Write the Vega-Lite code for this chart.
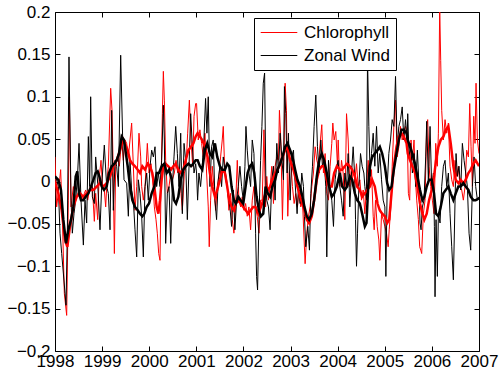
{
"$schema": "https://vega.github.io/schema/vega-lite/v6.json",
"width": 424, "height": 339,
"autosize": {"type": "none"},
"padding": {"left": 55, "top": 12, "right": 20, "bottom": 22},
"background": "white",
"config": {
  "view": {"stroke": "black", "strokeWidth": 1},
  "axis": {"domain": false, "grid": false, "ticks": true, "tickSize": -5, "tickColor": "black", "tickWidth": 1, "labelColor": "black", "labelFont": "Liberation Sans", "labelFontSize": 17, "labelOverlap": false, "labelFlush": false}
},
"datasets": {
"chl": [
{"t":1998.000,"v":0.029},{"t":1998.035,"v":-0.030},{"t":1998.085,"v":-0.006},{"t":1998.120,"v":0.014},{"t":1998.156,"v":-0.041},{"t":1998.198,"v":-0.132},{"t":1998.248,"v":-0.158},{"t":1998.283,"v":-0.022},{"t":1998.304,"v":0.100},{"t":1998.340,"v":-0.030},{"t":1998.389,"v":-0.006},{"t":1998.439,"v":-0.022},{"t":1998.481,"v":-0.014},{"t":1998.531,"v":-0.010},{"t":1998.580,"v":-0.022},{"t":1998.623,"v":-0.014},{"t":1998.651,"v":-0.010},{"t":1998.694,"v":-0.022},{"t":1998.743,"v":-0.006},{"t":1998.793,"v":-0.006},{"t":1998.835,"v":-0.047},{"t":1998.863,"v":-0.014},{"t":1998.906,"v":-0.045},{"t":1998.934,"v":0.002},{"t":1998.977,"v":0.025},{"t":1999.005,"v":-0.002},{"t":1999.047,"v":-0.010},{"t":1999.076,"v":-0.030},{"t":1999.104,"v":0.002},{"t":1999.132,"v":0.018},{"t":1999.182,"v":0.110},{"t":1999.210,"v":0.084},{"t":1999.231,"v":0.025},{"t":1999.260,"v":-0.085},{"t":1999.288,"v":0.018},{"t":1999.330,"v":0.029},{"t":1999.366,"v":0.018},{"t":1999.415,"v":0.049},{"t":1999.451,"v":0.025},{"t":1999.486,"v":0.049},
{"t":1999.521,"v":0.045},{"t":1999.557,"v":0.029},{"t":1999.592,"v":0.049},{"t":1999.627,"v":0.069},{"t":1999.663,"v":0.018},{"t":1999.698,"v":-0.034},{"t":1999.734,"v":-0.006},{"t":1999.783,"v":0.057},{"t":1999.819,"v":0.029},{"t":1999.840,"v":-0.006},{"t":1999.875,"v":-0.022},{"t":1999.911,"v":-0.006},{"t":1999.960,"v":0.045},{"t":1999.996,"v":0.010},{"t":2000.038,"v":0.021},{"t":2000.073,"v":0.002},{"t":2000.109,"v":-0.030},{"t":2000.144,"v":-0.045},{"t":2000.172,"v":-0.061},{"t":2000.201,"v":-0.085},{"t":2000.229,"v":-0.093},{"t":2000.250,"v":-0.006},{"t":2000.279,"v":0.080},{"t":2000.300,"v":0.130},{"t":2000.321,"v":0.096},{"t":2000.349,"v":0.025},{"t":2000.385,"v":-0.014},{"t":2000.420,"v":-0.006},{"t":2000.456,"v":0.010},{"t":2000.491,"v":0.002},{"t":2000.533,"v":0.010},{"t":2000.569,"v":0.025},{"t":2000.604,"v":0.010},{"t":2000.640,"v":0.014},{"t":2000.675,"v":-0.014},{"t":2000.703,"v":-0.034},{"t":2000.746,"v":0.010},{"t":2000.781,"v":0.018},{"t":2000.816,"v":0.057},{"t":2000.852,"v":0.096},{"t":2000.887,"v":0.049},{"t":2000.923,"v":0.018},{"t":2000.951,"v":0.077},{"t":2000.986,"v":0.092},
{"t":2001.005,"v":0.092},{"t":2001.041,"v":0.049},{"t":2001.076,"v":0.061},{"t":2001.112,"v":0.045},{"t":2001.147,"v":0.029},{"t":2001.182,"v":0.057},{"t":2001.218,"v":0.010},{"t":2001.253,"v":-0.030},{"t":2001.274,"v":-0.077},{"t":2001.303,"v":-0.022},{"t":2001.338,"v":0.018},{"t":2001.373,"v":-0.006},{"t":2001.409,"v":-0.034},{"t":2001.444,"v":-0.006},{"t":2001.480,"v":0.006},{"t":2001.515,"v":0.029},{"t":2001.550,"v":0.049},{"t":2001.572,"v":0.065},{"t":2001.593,"v":0.029},{"t":2001.621,"v":0.002},{"t":2001.656,"v":-0.006},{"t":2001.692,"v":-0.034},{"t":2001.727,"v":-0.014},{"t":2001.763,"v":-0.045},{"t":2001.798,"v":-0.061},{"t":2001.833,"v":-0.030},{"t":2001.869,"v":0.025},{"t":2001.904,"v":-0.022},{"t":2001.940,"v":-0.030},{"t":2001.975,"v":-0.018},{"t":2002.010,"v":-0.034},{"t":2002.046,"v":-0.026},{"t":2002.081,"v":-0.041},{"t":2002.116,"v":-0.030},{"t":2002.152,"v":-0.057},{"t":2002.187,"v":-0.022},{"t":2002.223,"v":-0.006},{"t":2002.258,"v":-0.030},{"t":2002.293,"v":-0.041},{"t":2002.329,"v":-0.061},{"t":2002.364,"v":-0.022},{"t":2002.399,"v":-0.022},{"t":2002.435,"v":0.061},{"t":2002.470,"v":-0.030},
{"t":2002.495,"v":0.006},{"t":2002.531,"v":-0.022},{"t":2002.566,"v":-0.006},{"t":2002.602,"v":0.018},{"t":2002.637,"v":-0.026},{"t":2002.672,"v":0.018},{"t":2002.708,"v":0.029},{"t":2002.743,"v":0.025},{"t":2002.764,"v":0.084},{"t":2002.793,"v":0.049},{"t":2002.828,"v":-0.045},{"t":2002.863,"v":0.041},{"t":2002.885,"v":0.116},{"t":2002.913,"v":0.084},{"t":2002.941,"v":-0.041},{"t":2002.970,"v":0.010},{"t":2003.005,"v":0.025},{"t":2003.040,"v":-0.006},{"t":2003.076,"v":-0.026},{"t":2003.111,"v":-0.014},{"t":2003.146,"v":-0.030},{"t":2003.182,"v":-0.010},{"t":2003.217,"v":-0.030},{"t":2003.253,"v":-0.022},{"t":2003.288,"v":-0.069},{"t":2003.309,"v":-0.097},{"t":2003.345,"v":-0.061},{"t":2003.380,"v":-0.041},{"t":2003.415,"v":-0.030},{"t":2003.451,"v":-0.006},{"t":2003.486,"v":0.010},{"t":2003.522,"v":0.041},{"t":2003.557,"v":0.025},{"t":2003.592,"v":0.018},{"t":2003.628,"v":0.045},{"t":2003.663,"v":0.067},{"t":2003.698,"v":0.010},{"t":2003.734,"v":0.033},{"t":2003.769,"v":-0.014},{"t":2003.805,"v":-0.022},{"t":2003.840,"v":0.018},{"t":2003.875,"v":0.045},{"t":2003.897,"v":0.069},{"t":2003.925,"v":0.049},{"t":2003.960,"v":0.059},{"t":2003.996,"v":0.018},
{"t":2004.011,"v":0.049},{"t":2004.046,"v":-0.006},{"t":2004.082,"v":0.025},{"t":2004.117,"v":0.010},{"t":2004.152,"v":-0.045},{"t":2004.188,"v":0.080},{"t":2004.223,"v":0.049},{"t":2004.258,"v":-0.006},{"t":2004.294,"v":0.018},{"t":2004.329,"v":-0.006},{"t":2004.365,"v":0.002},{"t":2004.400,"v":0.021},{"t":2004.435,"v":-0.006},{"t":2004.471,"v":0.002},{"t":2004.506,"v":-0.022},{"t":2004.542,"v":-0.010},{"t":2004.577,"v":-0.038},{"t":2004.612,"v":-0.006},{"t":2004.648,"v":0.025},{"t":2004.683,"v":-0.006},{"t":2004.718,"v":0.014},{"t":2004.754,"v":-0.041},{"t":2004.775,"v":-0.057},{"t":2004.803,"v":-0.022},{"t":2004.839,"v":-0.053},{"t":2004.874,"v":-0.069},{"t":2004.895,"v":-0.093},{"t":2004.931,"v":-0.038},{"t":2004.966,"v":-0.045},{"t":2005.002,"v":-0.053},{"t":2005.037,"v":-0.061},{"t":2005.072,"v":-0.077},{"t":2005.094,"v":-0.057},{"t":2005.129,"v":-0.030},{"t":2005.157,"v":0.018},{"t":2005.193,"v":0.065},{"t":2005.228,"v":0.096},{"t":2005.263,"v":0.029},{"t":2005.299,"v":0.041},{"t":2005.334,"v":0.065},{"t":2005.370,"v":0.049},{"t":2005.405,"v":0.057},{"t":2005.440,"v":0.065},{"t":2005.476,"v":0.057},
{"t":2005.501,"v":-0.014},{"t":2005.529,"v":-0.022},{"t":2005.557,"v":0.049},{"t":2005.586,"v":0.025},{"t":2005.621,"v":0.049},{"t":2005.642,"v":0.010},{"t":2005.678,"v":-0.022},{"t":2005.713,"v":-0.045},{"t":2005.741,"v":-0.077},{"t":2005.763,"v":-0.081},{"t":2005.784,"v":-0.085},{"t":2005.819,"v":-0.038},{"t":2005.855,"v":-0.022},{"t":2005.890,"v":0.065},{"t":2005.911,"v":0.073},{"t":2005.940,"v":0.018},{"t":2005.975,"v":-0.006},{"t":2006.010,"v":-0.022},{"t":2006.046,"v":-0.038},{"t":2006.081,"v":0.045},{"t":2006.116,"v":0.018},{"t":2006.138,"v":0.057},{"t":2006.166,"v":0.206},{"t":2006.187,"v":0.143},{"t":2006.208,"v":0.084},{"t":2006.244,"v":0.049},{"t":2006.279,"v":0.073},{"t":2006.315,"v":0.057},{"t":2006.350,"v":0.069},{"t":2006.385,"v":0.018},{"t":2006.421,"v":0.002},{"t":2006.456,"v":-0.006},{"t":2006.492,"v":0.025},{"t":2006.527,"v":0.006},{"t":2006.562,"v":0.018},{"t":2006.598,"v":-0.006},{"t":2006.633,"v":-0.010},{"t":2006.668,"v":-0.022},{"t":2006.704,"v":-0.006},{"t":2006.739,"v":0.037},{"t":2006.775,"v":0.029},{"t":2006.803,"v":0.092},{"t":2006.831,"v":0.041},{"t":2006.860,"v":-0.006},{"t":2006.888,"v":0.077},{"t":2006.916,"v":0.045},{"t":2006.937,"v":0.116},{"t":2006.966,"v":0.049},{"t":2007.000,"v":0.033}
],
"wind": [
{"t":1998.000,"v":0.006},{"t":1998.035,"v":0.002},{"t":1998.071,"v":-0.006},{"t":1998.106,"v":-0.061},{"t":1998.142,"v":-0.085},{"t":1998.177,"v":-0.108},{"t":1998.234,"v":-0.146},{"t":1998.262,"v":-0.061},{"t":1998.297,"v":0.147},{"t":1998.340,"v":-0.022},{"t":1998.368,"v":-0.061},{"t":1998.403,"v":-0.038},{"t":1998.439,"v":-0.022},{"t":1998.481,"v":0.010},{"t":1998.510,"v":0.045},{"t":1998.552,"v":-0.022},{"t":1998.602,"v":-0.075},{"t":1998.637,"v":-0.022},{"t":1998.672,"v":-0.049},{"t":1998.708,"v":0.053},{"t":1998.736,"v":-0.006},{"t":1998.757,"v":0.100},{"t":1998.793,"v":-0.018},{"t":1998.835,"v":-0.026},{"t":1998.863,"v":0.029},{"t":1998.906,"v":-0.002},{"t":1998.955,"v":-0.057},{"t":1998.991,"v":-0.006},{"t":1999.047,"v":0.043},{"t":1999.097,"v":-0.006},{"t":1999.132,"v":-0.014},{"t":1999.168,"v":-0.057},{"t":1999.203,"v":0.084},{"t":1999.238,"v":-0.034},{"t":1999.274,"v":0.025},{"t":1999.309,"v":0.018},{"t":1999.345,"v":-0.006},{"t":1999.394,"v":0.149},{"t":1999.437,"v":0.049},{"t":1999.465,"v":0.002},
{"t":1999.521,"v":-0.002},{"t":1999.557,"v":-0.041},{"t":1999.592,"v":0.025},{"t":1999.627,"v":-0.010},{"t":1999.663,"v":-0.022},{"t":1999.698,"v":-0.057},{"t":1999.734,"v":-0.089},{"t":1999.769,"v":0.002},{"t":1999.804,"v":-0.014},{"t":1999.840,"v":-0.041},{"t":1999.875,"v":-0.089},{"t":1999.911,"v":-0.006},{"t":1999.946,"v":0.010},{"t":1999.981,"v":-0.022},{"t":2000.017,"v":0.018},{"t":2000.052,"v":0.037},{"t":2000.088,"v":0.029},{"t":2000.123,"v":0.041},{"t":2000.158,"v":-0.006},{"t":2000.194,"v":0.010},{"t":2000.229,"v":-0.006},{"t":2000.264,"v":0.025},{"t":2000.300,"v":0.090},{"t":2000.321,"v":0.049},{"t":2000.349,"v":-0.073},{"t":2000.385,"v":-0.014},{"t":2000.420,"v":-0.006},{"t":2000.456,"v":-0.073},{"t":2000.491,"v":-0.006},{"t":2000.526,"v":0.029},{"t":2000.562,"v":0.065},{"t":2000.597,"v":0.033},{"t":2000.632,"v":-0.006},{"t":2000.668,"v":0.057},{"t":2000.703,"v":-0.038},{"t":2000.739,"v":0.045},{"t":2000.774,"v":0.025},{"t":2000.809,"v":-0.045},{"t":2000.845,"v":0.018},{"t":2000.880,"v":0.080},{"t":2000.916,"v":0.041},{"t":2000.951,"v":0.010},{"t":2000.986,"v":0.021},
{"t":2001.005,"v":0.010},{"t":2001.027,"v":-0.022},{"t":2001.055,"v":0.010},{"t":2001.090,"v":-0.006},{"t":2001.126,"v":0.018},{"t":2001.161,"v":0.049},{"t":2001.196,"v":0.098},{"t":2001.225,"v":0.057},{"t":2001.253,"v":0.100},{"t":2001.288,"v":-0.006},{"t":2001.324,"v":0.041},{"t":2001.359,"v":0.049},{"t":2001.395,"v":-0.022},{"t":2001.430,"v":-0.045},{"t":2001.465,"v":0.002},{"t":2001.501,"v":0.018},{"t":2001.536,"v":-0.006},{"t":2001.572,"v":0.029},{"t":2001.607,"v":0.014},{"t":2001.642,"v":0.002},{"t":2001.678,"v":-0.018},{"t":2001.713,"v":-0.030},{"t":2001.748,"v":-0.053},{"t":2001.784,"v":-0.010},{"t":2001.819,"v":-0.057},{"t":2001.855,"v":-0.022},{"t":2001.890,"v":-0.006},{"t":2001.925,"v":0.018},{"t":2001.961,"v":-0.006},{"t":2001.996,"v":-0.022},{"t":2002.032,"v":0.018},{"t":2002.053,"v":0.065},{"t":2002.081,"v":0.037},{"t":2002.116,"v":0.010},{"t":2002.152,"v":-0.006},{"t":2002.187,"v":0.049},{"t":2002.223,"v":0.033},{"t":2002.258,"v":-0.061},{"t":2002.279,"v":-0.112},{"t":2002.300,"v":-0.128},{"t":2002.329,"v":-0.045},{"t":2002.364,"v":0.025},{"t":2002.392,"v":0.065},{"t":2002.421,"v":0.116},{"t":2002.449,"v":0.128},{"t":2002.477,"v":-0.006},
{"t":2002.495,"v":-0.022},{"t":2002.531,"v":-0.030},{"t":2002.566,"v":-0.057},{"t":2002.602,"v":0.002},{"t":2002.637,"v":0.018},{"t":2002.672,"v":-0.022},{"t":2002.708,"v":0.045},{"t":2002.743,"v":0.010},{"t":2002.778,"v":0.057},{"t":2002.814,"v":0.029},{"t":2002.849,"v":0.002},{"t":2002.870,"v":0.112},{"t":2002.899,"v":0.080},{"t":2002.927,"v":0.010},{"t":2002.955,"v":0.057},{"t":2002.991,"v":-0.022},{"t":2003.026,"v":0.029},{"t":2003.062,"v":0.037},{"t":2003.083,"v":0.010},{"t":2003.111,"v":-0.014},{"t":2003.139,"v":-0.038},{"t":2003.168,"v":-0.006},{"t":2003.203,"v":-0.026},{"t":2003.238,"v":0.010},{"t":2003.274,"v":-0.006},{"t":2003.295,"v":-0.041},{"t":2003.323,"v":-0.077},{"t":2003.366,"v":-0.053},{"t":2003.401,"v":-0.081},{"t":2003.430,"v":-0.014},{"t":2003.465,"v":0.018},{"t":2003.500,"v":0.065},{"t":2003.536,"v":0.102},{"t":2003.571,"v":0.041},{"t":2003.606,"v":0.010},{"t":2003.642,"v":0.049},{"t":2003.677,"v":0.018},{"t":2003.713,"v":0.025},{"t":2003.748,"v":-0.006},{"t":2003.769,"v":-0.089},{"t":2003.805,"v":0.025},{"t":2003.840,"v":-0.006},{"t":2003.875,"v":-0.022},{"t":2003.911,"v":-0.053},{"t":2003.946,"v":0.002},{"t":2003.982,"v":0.018},
{"t":2004.011,"v":0.025},{"t":2004.046,"v":-0.006},{"t":2004.082,"v":-0.022},{"t":2004.117,"v":-0.041},{"t":2004.152,"v":0.010},{"t":2004.188,"v":-0.006},{"t":2004.223,"v":0.033},{"t":2004.258,"v":-0.030},{"t":2004.294,"v":0.010},{"t":2004.329,"v":0.041},{"t":2004.365,"v":0.002},{"t":2004.379,"v":-0.045},{"t":2004.400,"v":-0.100},{"t":2004.421,"v":-0.061},{"t":2004.450,"v":-0.006},{"t":2004.485,"v":0.033},{"t":2004.520,"v":0.018},{"t":2004.556,"v":0.010},{"t":2004.577,"v":-0.006},{"t":2004.612,"v":-0.022},{"t":2004.634,"v":0.145},{"t":2004.662,"v":0.065},{"t":2004.690,"v":0.006},{"t":2004.718,"v":0.033},{"t":2004.754,"v":0.057},{"t":2004.789,"v":0.018},{"t":2004.825,"v":0.065},{"t":2004.860,"v":0.010},{"t":2004.895,"v":0.033},{"t":2004.931,"v":0.002},{"t":2004.966,"v":-0.022},{"t":2005.002,"v":-0.030},{"t":2005.023,"v":-0.112},{"t":2005.051,"v":-0.006},{"t":2005.086,"v":0.033},{"t":2005.122,"v":0.049},{"t":2005.157,"v":0.073},{"t":2005.193,"v":0.065},{"t":2005.228,"v":0.124},{"t":2005.263,"v":0.041},{"t":2005.299,"v":0.065},{"t":2005.334,"v":0.073},{"t":2005.370,"v":0.088},{"t":2005.405,"v":0.049},{"t":2005.440,"v":0.073},{"t":2005.476,"v":0.049},
{"t":2005.487,"v":0.080},{"t":2005.515,"v":0.029},{"t":2005.550,"v":0.045},{"t":2005.586,"v":0.010},{"t":2005.621,"v":0.033},{"t":2005.656,"v":-0.006},{"t":2005.692,"v":0.037},{"t":2005.727,"v":-0.006},{"t":2005.748,"v":-0.049},{"t":2005.770,"v":-0.057},{"t":2005.798,"v":-0.030},{"t":2005.833,"v":-0.022},{"t":2005.869,"v":0.029},{"t":2005.890,"v":0.071},{"t":2005.925,"v":0.002},{"t":2005.961,"v":0.065},{"t":2005.996,"v":-0.006},{"t":2006.032,"v":0.010},{"t":2006.053,"v":-0.053},{"t":2006.067,"v":-0.136},{"t":2006.088,"v":-0.045},{"t":2006.116,"v":-0.112},{"t":2006.138,"v":-0.038},{"t":2006.173,"v":-0.049},{"t":2006.208,"v":-0.006},{"t":2006.244,"v":0.018},{"t":2006.279,"v":0.025},{"t":2006.315,"v":-0.006},{"t":2006.350,"v":0.010},{"t":2006.385,"v":-0.038},{"t":2006.421,"v":-0.077},{"t":2006.456,"v":-0.116},{"t":2006.492,"v":-0.022},{"t":2006.513,"v":0.033},{"t":2006.541,"v":0.006},{"t":2006.576,"v":0.018},{"t":2006.612,"v":-0.010},{"t":2006.647,"v":0.045},{"t":2006.683,"v":0.025},{"t":2006.718,"v":0.010},{"t":2006.753,"v":-0.006},{"t":2006.789,"v":-0.061},{"t":2006.824,"v":-0.081},{"t":2006.860,"v":-0.006},{"t":2006.895,"v":0.029},{"t":2006.930,"v":-0.006},{"t":2006.966,"v":-0.022},{"t":2007.000,"v":-0.018}
],
"chlS": [
{"t":1998.000,"v":0.000},{"t":1998.071,"v":-0.014},{"t":1998.142,"v":-0.034},{"t":1998.212,"v":-0.069},{"t":1998.262,"v":-0.077},{"t":1998.318,"v":-0.053},{"t":1998.389,"v":-0.030},{"t":1998.460,"v":-0.018},{"t":1998.531,"v":-0.014},{"t":1998.602,"v":-0.018},{"t":1998.672,"v":-0.014},{"t":1998.743,"v":-0.010},{"t":1998.814,"v":-0.010},{"t":1998.885,"v":-0.006},{"t":1998.955,"v":-0.002},{"t":1999.026,"v":-0.006},{"t":1999.097,"v":-0.002},{"t":1999.168,"v":0.006},{"t":1999.238,"v":0.018},{"t":1999.309,"v":0.025},{"t":1999.380,"v":0.037},{"t":1999.451,"v":0.049},
{"t":1999.543,"v":0.037},{"t":1999.592,"v":0.025},{"t":1999.642,"v":0.021},{"t":1999.698,"v":0.018},{"t":1999.755,"v":0.014},{"t":1999.804,"v":0.010},{"t":1999.854,"v":0.018},{"t":1999.911,"v":0.014},{"t":1999.967,"v":0.021},{"t":2000.017,"v":0.018},{"t":2000.066,"v":0.010},{"t":2000.109,"v":-0.006},{"t":2000.158,"v":-0.030},{"t":2000.194,"v":-0.038},{"t":2000.229,"v":-0.022},{"t":2000.264,"v":0.002},{"t":2000.300,"v":0.018},{"t":2000.349,"v":0.021},{"t":2000.406,"v":0.018},{"t":2000.463,"v":0.014},{"t":2000.512,"v":0.018},{"t":2000.562,"v":0.021},{"t":2000.618,"v":0.014},{"t":2000.675,"v":0.010},{"t":2000.724,"v":0.014},{"t":2000.774,"v":0.025},{"t":2000.831,"v":0.037},{"t":2000.887,"v":0.041},{"t":2000.937,"v":0.045},{"t":2000.986,"v":0.053},
{"t":2001.027,"v":0.057},{"t":2001.076,"v":0.053},{"t":2001.126,"v":0.049},{"t":2001.182,"v":0.041},{"t":2001.239,"v":0.029},{"t":2001.288,"v":0.010},{"t":2001.338,"v":-0.006},{"t":2001.395,"v":-0.018},{"t":2001.444,"v":-0.010},{"t":2001.501,"v":0.002},{"t":2001.550,"v":0.014},{"t":2001.607,"v":0.010},{"t":2001.656,"v":-0.006},{"t":2001.699,"v":-0.022},{"t":2001.748,"v":-0.030},{"t":2001.798,"v":-0.034},{"t":2001.840,"v":-0.026},{"t":2001.890,"v":-0.022},{"t":2001.940,"v":-0.026},{"t":2001.996,"v":-0.030},{"t":2002.046,"v":-0.034},{"t":2002.102,"v":-0.038},{"t":2002.152,"v":-0.034},{"t":2002.208,"v":-0.030},{"t":2002.258,"v":-0.030},{"t":2002.315,"v":-0.038},{"t":2002.371,"v":-0.030},{"t":2002.421,"v":-0.022},{"t":2002.470,"v":-0.014},
{"t":2002.517,"v":-0.010},{"t":2002.566,"v":-0.006},{"t":2002.616,"v":0.002},{"t":2002.672,"v":0.010},{"t":2002.722,"v":0.014},{"t":2002.778,"v":0.021},{"t":2002.828,"v":0.029},{"t":2002.885,"v":0.037},{"t":2002.934,"v":0.041},{"t":2002.991,"v":0.025},{"t":2003.040,"v":0.018},{"t":2003.097,"v":0.006},{"t":2003.146,"v":-0.006},{"t":2003.203,"v":-0.018},{"t":2003.253,"v":-0.026},{"t":2003.295,"v":-0.034},{"t":2003.345,"v":-0.045},{"t":2003.394,"v":-0.049},{"t":2003.451,"v":-0.041},{"t":2003.500,"v":-0.022},{"t":2003.557,"v":0.002},{"t":2003.606,"v":0.014},{"t":2003.663,"v":0.018},{"t":2003.713,"v":0.018},{"t":2003.769,"v":0.002},{"t":2003.819,"v":-0.006},{"t":2003.875,"v":-0.006},{"t":2003.925,"v":0.010},{"t":2003.982,"v":0.018},
{"t":2004.046,"v":0.014},{"t":2004.096,"v":0.014},{"t":2004.152,"v":0.018},{"t":2004.202,"v":0.021},{"t":2004.258,"v":0.018},{"t":2004.308,"v":0.014},{"t":2004.365,"v":0.006},{"t":2004.414,"v":-0.006},{"t":2004.471,"v":-0.010},{"t":2004.520,"v":-0.018},{"t":2004.577,"v":-0.014},{"t":2004.626,"v":-0.010},{"t":2004.683,"v":-0.006},{"t":2004.733,"v":0.002},{"t":2004.789,"v":-0.006},{"t":2004.846,"v":-0.026},{"t":2004.895,"v":-0.034},{"t":2004.945,"v":-0.038},{"t":2005.002,"v":-0.041},{"t":2005.051,"v":-0.049},{"t":2005.094,"v":-0.045},{"t":2005.143,"v":-0.014},{"t":2005.193,"v":0.018},{"t":2005.249,"v":0.041},{"t":2005.299,"v":0.053},{"t":2005.355,"v":0.057},{"t":2005.405,"v":0.053},{"t":2005.462,"v":0.045},
{"t":2005.487,"v":0.033},{"t":2005.536,"v":0.025},{"t":2005.586,"v":0.018},{"t":2005.642,"v":0.010},{"t":2005.692,"v":-0.006},{"t":2005.748,"v":-0.026},{"t":2005.798,"v":-0.038},{"t":2005.840,"v":-0.045},{"t":2005.890,"v":-0.038},{"t":2005.940,"v":-0.022},{"t":2005.996,"v":-0.010},{"t":2006.046,"v":0.006},{"t":2006.088,"v":0.025},{"t":2006.138,"v":0.041},{"t":2006.187,"v":0.049},{"t":2006.244,"v":0.053},{"t":2006.293,"v":0.061},{"t":2006.350,"v":0.065},{"t":2006.400,"v":0.045},{"t":2006.456,"v":0.018},{"t":2006.506,"v":0.002},{"t":2006.562,"v":-0.002},{"t":2006.612,"v":0.002},{"t":2006.668,"v":-0.002},{"t":2006.718,"v":0.002},{"t":2006.775,"v":0.010},{"t":2006.824,"v":0.014},{"t":2006.881,"v":0.021},{"t":2006.930,"v":0.025},{"t":2007.000,"v":0.018}
],
"windS": [
{"t":1998.000,"v":0.006},{"t":1998.071,"v":0.002},{"t":1998.127,"v":-0.010},{"t":1998.177,"v":-0.045},{"t":1998.234,"v":-0.073},{"t":1998.283,"v":-0.057},{"t":1998.340,"v":-0.045},{"t":1998.389,"v":-0.030},{"t":1998.439,"v":0.006},{"t":1998.474,"v":0.012},{"t":1998.510,"v":-0.014},{"t":1998.552,"v":-0.022},{"t":1998.602,"v":-0.022},{"t":1998.651,"v":-0.018},{"t":1998.708,"v":-0.014},{"t":1998.764,"v":-0.006},{"t":1998.814,"v":0.002},{"t":1998.863,"v":0.010},{"t":1998.906,"v":0.012},{"t":1998.941,"v":0.006},{"t":1998.991,"v":-0.006},{"t":1999.040,"v":-0.010},{"t":1999.097,"v":-0.006},{"t":1999.146,"v":0.010},{"t":1999.203,"v":0.018},{"t":1999.260,"v":0.021},{"t":1999.309,"v":0.025},{"t":1999.359,"v":0.033},{"t":1999.415,"v":0.053},{"t":1999.465,"v":0.049},
{"t":1999.543,"v":0.018},{"t":1999.592,"v":-0.006},{"t":1999.642,"v":-0.022},{"t":1999.698,"v":-0.030},{"t":1999.755,"v":-0.034},{"t":1999.804,"v":-0.038},{"t":1999.854,"v":-0.041},{"t":1999.896,"v":-0.038},{"t":1999.946,"v":-0.030},{"t":1999.996,"v":-0.026},{"t":2000.052,"v":-0.014},{"t":2000.109,"v":-0.006},{"t":2000.158,"v":0.010},{"t":2000.208,"v":0.010},{"t":2000.264,"v":0.018},{"t":2000.321,"v":0.021},{"t":2000.371,"v":0.010},{"t":2000.420,"v":0.014},{"t":2000.477,"v":0.002},{"t":2000.526,"v":-0.022},{"t":2000.569,"v":-0.026},{"t":2000.618,"v":-0.018},{"t":2000.668,"v":0.002},{"t":2000.724,"v":0.014},{"t":2000.774,"v":0.018},{"t":2000.831,"v":0.021},{"t":2000.887,"v":0.018},{"t":2000.937,"v":0.021},{"t":2000.986,"v":0.025},
{"t":2001.027,"v":0.025},{"t":2001.076,"v":0.018},{"t":2001.126,"v":0.014},{"t":2001.182,"v":0.037},{"t":2001.232,"v":0.045},{"t":2001.288,"v":0.033},{"t":2001.338,"v":0.029},{"t":2001.395,"v":0.045},{"t":2001.444,"v":0.029},{"t":2001.501,"v":0.018},{"t":2001.550,"v":0.014},{"t":2001.607,"v":0.014},{"t":2001.656,"v":0.021},{"t":2001.699,"v":0.018},{"t":2001.748,"v":-0.006},{"t":2001.798,"v":-0.022},{"t":2001.840,"v":-0.026},{"t":2001.890,"v":-0.018},{"t":2001.940,"v":-0.022},{"t":2001.996,"v":-0.026},{"t":2002.046,"v":-0.006},{"t":2002.088,"v":0.010},{"t":2002.138,"v":0.018},{"t":2002.187,"v":0.021},{"t":2002.230,"v":0.010},{"t":2002.279,"v":-0.018},{"t":2002.329,"v":-0.034},{"t":2002.371,"v":-0.041},{"t":2002.421,"v":-0.038},{"t":2002.470,"v":-0.006},
{"t":2002.517,"v":-0.014},{"t":2002.566,"v":-0.018},{"t":2002.616,"v":-0.006},{"t":2002.672,"v":0.002},{"t":2002.722,"v":0.014},{"t":2002.778,"v":0.021},{"t":2002.828,"v":0.029},{"t":2002.885,"v":0.041},{"t":2002.934,"v":0.045},{"t":2002.991,"v":0.037},{"t":2003.040,"v":0.029},{"t":2003.097,"v":0.014},{"t":2003.146,"v":0.002},{"t":2003.203,"v":-0.006},{"t":2003.253,"v":-0.018},{"t":2003.295,"v":-0.030},{"t":2003.345,"v":-0.041},{"t":2003.394,"v":-0.045},{"t":2003.451,"v":-0.038},{"t":2003.500,"v":-0.022},{"t":2003.557,"v":0.006},{"t":2003.606,"v":0.025},{"t":2003.663,"v":0.033},{"t":2003.713,"v":0.025},{"t":2003.769,"v":0.010},{"t":2003.819,"v":-0.006},{"t":2003.875,"v":-0.018},{"t":2003.925,"v":-0.014},{"t":2003.982,"v":-0.006},
{"t":2004.046,"v":0.010},{"t":2004.096,"v":-0.006},{"t":2004.152,"v":-0.010},{"t":2004.202,"v":-0.006},{"t":2004.258,"v":0.006},{"t":2004.308,"v":0.002},{"t":2004.365,"v":-0.014},{"t":2004.414,"v":-0.022},{"t":2004.471,"v":-0.026},{"t":2004.520,"v":-0.038},{"t":2004.577,"v":-0.053},{"t":2004.612,"v":-0.049},{"t":2004.648,"v":-0.006},{"t":2004.683,"v":0.018},{"t":2004.733,"v":0.029},{"t":2004.789,"v":0.033},{"t":2004.846,"v":0.037},{"t":2004.895,"v":0.041},{"t":2004.945,"v":0.033},{"t":2005.002,"v":0.018},{"t":2005.051,"v":-0.002},{"t":2005.094,"v":-0.010},{"t":2005.143,"v":-0.006},{"t":2005.193,"v":0.014},{"t":2005.249,"v":0.033},{"t":2005.299,"v":0.049},{"t":2005.355,"v":0.061},{"t":2005.405,"v":0.061},{"t":2005.462,"v":0.057},
{"t":2005.487,"v":0.049},{"t":2005.536,"v":0.041},{"t":2005.586,"v":0.033},{"t":2005.642,"v":0.021},{"t":2005.692,"v":0.006},{"t":2005.748,"v":-0.010},{"t":2005.798,"v":-0.022},{"t":2005.840,"v":-0.018},{"t":2005.890,"v":-0.006},{"t":2005.940,"v":0.002},{"t":2005.996,"v":0.002},{"t":2006.046,"v":-0.014},{"t":2006.088,"v":-0.038},{"t":2006.138,"v":-0.041},{"t":2006.187,"v":-0.030},{"t":2006.244,"v":-0.014},{"t":2006.293,"v":-0.010},{"t":2006.350,"v":-0.006},{"t":2006.400,"v":-0.014},{"t":2006.456,"v":-0.022},{"t":2006.506,"v":-0.014},{"t":2006.562,"v":-0.006},{"t":2006.612,"v":-0.006},{"t":2006.668,"v":-0.002},{"t":2006.718,"v":-0.006},{"t":2006.775,"v":-0.010},{"t":2006.824,"v":-0.018},{"t":2006.881,"v":-0.022},{"t":2006.930,"v":-0.022},{"t":2007.000,"v":-0.020}
]
},
"resolve": {"axis": {"x": "independent", "y": "independent"}},
"layer": [
{
  "data": {"name": "chl"},
  "mark": {"type": "line", "strokeWidth": 1, "clip": true},
  "encoding": {
    "x": {"field": "t", "type": "quantitative", "scale": {"domain": [1998, 2007], "nice": false, "zero": false},
          "axis": {"orient": "bottom", "values": [1998,1999,2000,2001,2002,2003,2004,2005,2006,2007], "format": "d", "labelPadding": 7, "title": null}},
    "y": {"field": "v", "type": "quantitative", "scale": {"domain": [-0.2, 0.2], "nice": false, "zero": false},
          "axis": {"orient": "left", "values": [-0.2,-0.15,-0.1,-0.05,0,0.05,0.1,0.15,0.2], "format": "~g", "labelPadding": 10, "title": null}},
    "color": {"datum": "Chlorophyll", "type": "nominal",
              "scale": {"domain": ["Chlorophyll", "Zonal Wind"], "range": ["#ff0000", "#000000"]},
              "legend": {"orient": "none", "legendX": 199, "legendY": 6, "title": null, "direction": "vertical",
                         "symbolType": "stroke", "symbolSize": 1340, "symbolStrokeWidth": 1,
                         "labelFont": "Liberation Sans", "labelFontSize": 17, "labelColor": "black",
                         "padding": 6, "rowPadding": 5, "labelOffset": 6, "clipHeight": 17,
                         "strokeColor": "black", "fillColor": "white"}}
  }
},
{
  "data": {"name": "wind"},
  "mark": {"type": "line", "strokeWidth": 1, "clip": true},
  "encoding": {
    "x": {"field": "t", "type": "quantitative",
          "axis": {"orient": "top", "values": [1998,1999,2000,2001,2002,2003,2004,2005,2006,2007], "labels": false, "title": null}},
    "y": {"field": "v", "type": "quantitative",
          "axis": {"orient": "right", "values": [-0.2,-0.15,-0.1,-0.05,0,0.05,0.1,0.15,0.2], "labels": false, "title": null}},
    "color": {"datum": "Zonal Wind", "type": "nominal"}
  }
},
{
  "data": {"name": "chlS"},
  "mark": {"type": "line", "strokeWidth": 2.5, "color": "#ff0000", "clip": true},
  "encoding": {
    "x": {"field": "t", "type": "quantitative", "axis": null},
    "y": {"field": "v", "type": "quantitative", "axis": null}
  }
},
{
  "data": {"name": "windS"},
  "mark": {"type": "line", "strokeWidth": 2.5, "color": "#000000", "clip": true},
  "encoding": {
    "x": {"field": "t", "type": "quantitative", "axis": null},
    "y": {"field": "v", "type": "quantitative", "axis": null}
  }
}
]
}
